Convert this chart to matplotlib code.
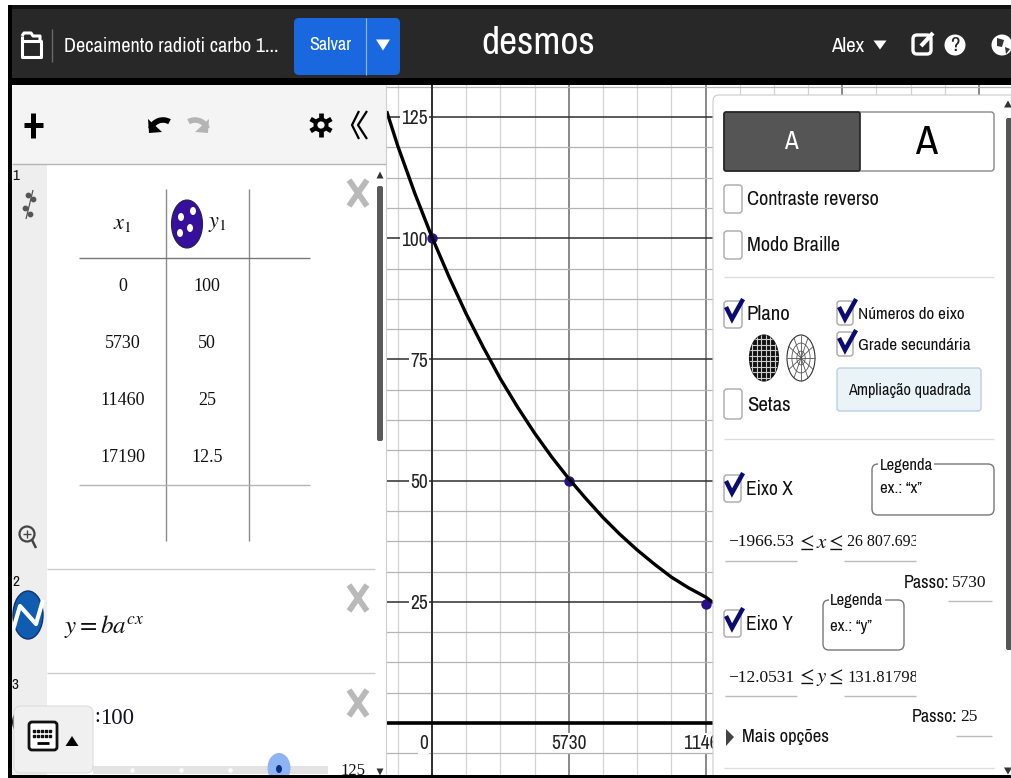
import numpy as np
import matplotlib
matplotlib.use("Agg")
import matplotlib.pyplot as plt
from matplotlib import font_manager as fm
from matplotlib.patches import Rectangle, FancyBboxPatch, Ellipse, Polygon, Circle, Arc
from matplotlib.ticker import MultipleLocator

plt.rcParams['mathtext.fontset'] = 'stix'

# the screenshot text is squeezed, use a narrow face when one is there
installed = set(f.name for f in fm.fontManager.ttflist)
SANS = ['Liberation Sans']
SCALE = 0.8
for name in ['Archivo Narrow', 'PT Sans Narrow', 'Roboto Condensed']:
    if name in installed:
        SANS = [name, 'Liberation Sans']
        SCALE = 1.0
        break
SERIF = ['Liberation Serif', 'DejaVu Serif']

# table in the expression list
table_x = ["0", "5730", "11460", "17190"]
table_y = ["100", "50", "25", "12.5"]

# points plotted on the graph
point_x = [0, 5730, 11460, 17190]
point_y = [100, 50, 24.6, 12.5]

# curve
curve_x = [-1900, -1432, -716, 0, 716, 1432, 2149, 2865, 3581, 4297, 5013, 5730,
           6446, 7162, 7878, 8595, 9311, 10027, 10743, 11460, 11790]
curve_y = [126.2, 119.0, 109.2, 100.2, 92.0, 84.4, 77.5, 71.0, 65.2, 59.8, 54.9, 50.4,
           46.3, 42.4, 38.9, 35.7, 32.8, 30.1, 27.9, 26.0, 24.8]

x_ticks = [0, 5730, 11460, 17190, 22920]
y_ticks = [25, 50, 75, 100, 125]
# the later x labels sit behind the settings panel
x_labels = ["", "5730", "11460", "", ""]
y_labels = ["25", "50", "75", "100", "125"]

W, H = 1011, 778
fig = plt.figure(figsize=(W / 100, H / 100), dpi=100, facecolor="white")

# graph paper
gx0, gx1, gy0, gy1 = 386, 1011, 85, 775
g = fig.add_axes([gx0 / W, 1 - gy1 / H, (gx1 - gx0) / W, (gy1 - gy0) / H], zorder=1)
px_x = 136.75 / 5730
px_y = 121.2 / 25
g.set_xlim((gx0 - 432) / px_x, (gx1 - 432) / px_x)
g.set_ylim((723 - gy1) / px_y, (723 - gy0) / px_y)
g.xaxis.set_minor_locator(MultipleLocator(5730 / 4))
g.yaxis.set_minor_locator(MultipleLocator(25 / 4))
g.set_axisbelow(True)
g.grid(True, which="minor", axis="x", color="#d4d4d4", lw=0.9)
g.grid(True, which="minor", axis="y", color="#b4b4b4", lw=0.9)
g.grid(True, which="major", axis="x", color="#757575", lw=1.2)
g.grid(True, which="major", axis="y", color="#2e2e2e", lw=1.1)
for s in ["top", "right"]:
    g.spines[s].set_visible(False)
g.spines["left"].set_position(("data", 0))
g.spines["bottom"].set_position(("data", 0))
g.spines["left"].set_linewidth(1.2)
g.spines["left"].set_color("#222222")
g.spines["bottom"].set_linewidth(2.6)
g.set_xticks(x_ticks)
g.set_yticks(y_ticks)
g.set_xticklabels(x_labels)
g.set_yticklabels(y_labels)
g.tick_params(which="both", length=0)
g.tick_params(axis="x", pad=8)
g.tick_params(axis="y", pad=3)
for lab in g.get_xticklabels() + g.get_yticklabels():
    lab.set_family(SANS)
    lab.set_fontsize(14 * SCALE)
    lab.set_color("#222222")
    if lab.get_text():
        lab.set_bbox(dict(fc="white", ec="none", pad=1))
g.plot(curve_x, curve_y, color="black", lw=2.4, solid_capstyle="butt", zorder=4)
g.scatter(point_x, point_y, s=42, color="#2a0f8c", zorder=3)
g.annotate("0", xy=(0, 0), xytext=(-3, -8), textcoords="offset points", fontsize=14 * SCALE, family=SANS,
           color="#222222", ha="right", va="top", bbox=dict(fc="white", ec="none", pad=1))

# interface drawn in pixel coordinates
ui = fig.add_axes([0, 0, 1, 1], zorder=2)
ui.set_xlim(0, W)
ui.set_ylim(H, 0)
ui.axis("off")
ui.patch.set_alpha(0)


def rect(x0, y0, x1, y1, fc, ec="none", lw=0, z=2):
    ui.add_patch(Rectangle((x0, y0), x1 - x0, y1 - y0, fc=fc, ec=ec, lw=lw, zorder=z))


def rrect(x0, y0, x1, y1, fc, ec="none", lw=1, r=5, z=3):
    ui.add_patch(FancyBboxPatch((x0 + r, y0 + r), x1 - x0 - 2 * r, y1 - y0 - 2 * r,
                                boxstyle="round,pad=%d,rounding_size=%d" % (r, r),
                                fc=fc, ec=ec, lw=lw, zorder=z))


def line(xs, ys, color="black", lw=1.0, z=4, cap="butt", **kw):
    ui.plot(xs, ys, color=color, lw=lw, zorder=z, solid_capstyle=cap, **kw)


def txt(x, y, s, size=15, color="#111111", ha="left", va="center", fam=None, z=6, **kw):
    if fam is None:
        fam = SANS
        size = size * SCALE
    return ui.text(x, y, s, fontsize=size, color=color, ha=ha, va=va, family=fam, zorder=z, **kw)


def tri(x, y, w, h, color="black", up=False, z=6):
    d = -1 if up else 1
    ui.add_patch(Polygon([(x - w / 2, y - d * h / 2), (x + w / 2, y - d * h / 2), (x, y + d * h / 2)],
                         fc=color, ec="none", zorder=z))


def grey_x(x, y):
    line([x - 9, x + 9], [y - 13, y + 13], color="#b9b9b9", lw=4.2, z=5)
    line([x + 9, x - 9], [y - 13, y + 13], color="#b9b9b9", lw=4.2, z=5)


def checkbox(x0, y0, x1, y1, checked=False):
    rrect(x0, y0, x1, y1, "white", ec="#a8a8a8", lw=1, r=3, z=5)
    if checked:
        ui.plot([x0 + 3, x0 + 8, x0 + 18], [y0 + 8, y0 + 18, y0 + 0], color="#0b0b70", lw=3.2, zorder=6,
                solid_joinstyle="miter")


# top bar and frame
rect(8, 5, W, 85, "#282828")
rect(8, 5, W, 9, "#111111")
rect(8, 78, W, 85, "#000000")
rect(8, 5, 12, H, "#000000", z=9)
rect(8, 775, W, H, "#000000", z=9)

# folder icon
line([22, 22, 41, 41, 22], [36, 57, 57, 41, 41], color="white", lw=2.2, z=5)
line([22, 24, 31, 33, 40, 40], [36, 33, 33, 36, 36, 41], color="white", lw=2.2, z=5)
line([52, 52], [29, 62], color="#6a6a6a", lw=1)
txt(64, 46, "Decaimento radioti carbo 1...", size=14.6, color="white")

rrect(294, 18, 400, 75, "#1a68e0", r=5)
line([366, 366], [18, 75], color="#8fb6f0", lw=0.8)
txt(330, 45, "Salvar", size=13, color="white", ha="center")
tri(383, 45, 14, 11, "white")

txt(538, 43, "desmos", size=28.5, color="white", ha="center")
txt(831, 46, "Alex", size=15, color="white")
tri(880, 45, 13, 9, "white")
# share, help, globe
rrect(913, 35, 931, 54, "none", ec="white", lw=2.4, r=4, z=6)
line([921, 933], [46, 33], color="white", lw=3, z=7)
ui.add_patch(Circle((955, 45), 10.5, fc="white", zorder=6))
txt(955, 45, "?", size=15, color="#222222", ha="center", fontweight="bold", z=7)
ui.add_patch(Circle((1002, 45), 10.5, fc="white", zorder=6))
ui.add_patch(Polygon([(997, 38), (1004, 40), (1002, 47), (997, 46)], fc="#333333", zorder=7))
ui.add_patch(Polygon([(1005, 47), (1010, 49), (1006, 54)], fc="#333333", zorder=7))

# list panel
rect(12, 85, 386, 775, "white")
rect(12, 85, 386, 164, "#f4f4f4")
line([12, 386], [164, 164], color="#b5b5b5", lw=1)
line([386, 386], [85, 775], color="#cfcfcf", lw=0.8)
rect(12, 165, 47, 775, "#eeeeee")
line([33, 33], [113, 138], lw=3.6, z=5)
line([24, 43], [125, 125], lw=3.6, z=5)
# undo and redo
ui.add_patch(Arc((163, 133), 26, 26, theta1=200, theta2=300, color="black", lw=4, zorder=5))
ui.add_patch(Polygon([(148, 119), (149, 133), (162, 132)], fc="black", zorder=5))
ui.add_patch(Arc((195, 133), 26, 26, theta1=240, theta2=340, color="#b4b4b4", lw=4, zorder=5))
ui.add_patch(Polygon([(209, 119), (208, 133), (195, 132)], fc="#b4b4b4", zorder=5))
# gear
ui.add_patch(Circle((321, 125), 7.5, fc="black", zorder=5))
for a in np.deg2rad([30, 90, 150]):
    line([321 - 12 * np.cos(a), 321 + 12 * np.cos(a)], [125 - 12 * np.sin(a), 125 + 12 * np.sin(a)], lw=3.4, z=5)
ui.add_patch(Circle((321, 125), 3.6, fc="#f4f4f4", zorder=6))
line([359, 352, 359], [111, 125, 139], lw=1.6, z=5)
line([367, 358, 367], [111, 125, 139], lw=1.6, z=5)

txt(12, 176, "1", size=11)
txt(12, 582, "2", size=11)
txt(12, 685, "3", size=11)

# table icon in gutter
line([26, 33], [219, 190], color="#555555", lw=0.9, z=5)
ui.scatter([28, 33, 25, 30], [195, 199, 208, 214], s=10, color="#555555", zorder=5)

# table
for lx in [166, 249]:
    line([lx, lx], [189, 541], color="#8c8c8c", lw=1)
line([79, 310], [258, 258], color="#777777", lw=1)
line([79, 310], [485, 485], color="#b5b5b5", lw=1)
txt(122, 224, r"$x_1$", size=16, ha="center")
txt(217, 224, r"$y_1$", size=16, ha="center")
ui.add_patch(Ellipse((187, 224), 31, 48, fc="#36109c", ec="#222244", lw=0.8, zorder=5))
for dx, dy in [(-6, -7), (6, -13), (3, 4), (-7, 9)]:
    ui.add_patch(Ellipse((187 + dx, 224 + dy), 6, 8, fc="white", zorder=6))
for i, yy in enumerate([286, 343, 400, 457]):
    txt(123, yy, table_x[i], size=13, ha="center", fam=SERIF)
    txt(207, yy, table_y[i], size=13, ha="center", fam=SERIF)

grey_x(358, 193)
grey_x(358, 598)
grey_x(358, 703)

# list scrollbar
rrect(377, 186, 383, 441, "#5a5a5a", r=2, z=5)
tri(380, 175, 7, 7, "#333333", up=True)
tri(380, 772, 7, 7, "#333333", z=8)

# zoom icon
ui.add_patch(Circle((27, 534), 7.5, fc="none", ec="#444444", lw=1.6, zorder=5))
line([32, 36], [540, 548], color="#444444", lw=1.8, z=5)
line([23, 31], [534, 534], color="#444444", lw=1, z=5)
line([27, 27], [530, 538], color="#444444", lw=1, z=5)

line([47, 375], [569, 569], color="#cccccc", lw=1, z=5)
line([47, 375], [673, 673], color="#cccccc", lw=1, z=5)

# expression 2
ui.add_patch(Ellipse((28, 615), 30, 48, fc="#0f5cb0", ec="#11336b", lw=1, zorder=5))
wave_x = [13, 20, 28, 36, 43]
wave_y = [630, 606, 615, 624, 600]
line(wave_x, wave_y, color="white", lw=3, z=6)
txt(64, 626, r"$y=ba^{cx}$", size=18)

# expression 3
ui.add_patch(Circle((28, 722), 15, fc="white", ec="#222222", lw=1.4, zorder=5))
txt(100, 718, "100", size=16.5, fam=SERIF, color="#111122")
txt(94, 718, ":", size=15, fam=SERIF)
rect(93, 766, 328, 774, "#e3e3e3")
for sx in [132, 181, 230]:
    ui.scatter([sx], [770], s=5, color="white", zorder=5)
ui.add_patch(Ellipse((279, 768), 23, 30, fc="#8fb4f4", zorder=5))
ui.add_patch(Ellipse((279, 769), 6, 8, fc="#0b2f80", zorder=6))
txt(353, 771, "125", size=12, ha="center", fam=SERIF)

# keyboard button
rrect(14, 706, 93, 773, "#f0f0f0", ec="#dddddd", lw=0.8, r=7, z=7)
rrect(29, 722, 57, 750, "white", ec="#111111", lw=2, r=3, z=8)
for ky in [731, 736]:
    ui.scatter(np.arange(34, 54, 4), [ky] * 5, s=3, marker="s", color="#111111", zorder=9)
line([37, 49], [743, 743], lw=2, z=9)
tri(72, 741, 13, 10, "black", up=True, z=8)

# settings panel
rrect(713, 95, 1030, 800, "white", ec="#cccccc", lw=0.8, r=6, z=2)
rect(713, 775, W, H, "#000000", z=9)

rrect(724, 112, 994, 171, "white", ec="#888888", lw=1, r=3)
rrect(724, 112, 860, 171, "#555555", ec="#222222", lw=1.2, r=2, z=4)
rect(845, 113, 858, 170, "#555555", z=4)
txt(791, 141, "A", size=18, color="white", ha="center")
txt(926, 142, "A", size=29, color="black", ha="center")

checkbox(724, 185, 742, 213)
txt(747, 199, "Contraste reverso", size=14.6)
checkbox(724, 231, 742, 259)
txt(747, 245, "Modo Braille", size=14.6)
line([724, 994], [277, 277], color="#dddddd", lw=1)

checkbox(724, 301, 742, 328, True)
txt(747, 314, "Plano", size=15)
checkbox(837, 301, 853, 325, True)
txt(858, 314, "Números do eixo", size=12.3)
checkbox(837, 332, 853, 356, True)
txt(858, 345, "Grade secundária", size=12.3)

# small cartesian and polar thumbnails
e1 = Ellipse((764, 358), 29, 46, fc="#111111", ec="#111111", lw=0.8, zorder=5)
ui.add_patch(e1)
for gx in np.arange(752, 780, 4.5):
    ln, = ui.plot([gx, gx], [334, 382], color="#cccccc", lw=0.8, zorder=6)
    ln.set_clip_path(e1)
for gy in np.arange(339, 382, 5.5):
    ln, = ui.plot([749, 779], [gy, gy], color="#cccccc", lw=0.8, zorder=6)
    ln.set_clip_path(e1)
e2 = Ellipse((801, 358), 28, 46, fc="white", ec="#333333", lw=0.8, zorder=5)
ui.add_patch(e2)
for a in np.deg2rad(np.arange(0, 180, 30)):
    line([801 - 14 * np.cos(a), 801 + 14 * np.cos(a)], [358 - 23 * np.sin(a), 358 + 23 * np.sin(a)],
         color="#555555", lw=0.6, z=6)
for f in [0.3, 0.65]:
    ui.add_patch(Ellipse((801, 358), 28 * f, 46 * f, fc="none", ec="#555555", lw=0.6, zorder=6))

checkbox(724, 389, 742, 419)
txt(747, 405, "Setas", size=15)
rrect(837, 368, 981, 411, "#eaf3f8", ec="#bcd0dd", lw=1, r=3)
txt(909, 390, "Ampliação quadrada", size=11.7, ha="center")
line([724, 994], [439, 439], color="#dddddd", lw=1)

# x axis row
checkbox(724, 475, 741, 502, True)
txt(746, 489, "Eixo X", size=14)
rrect(872, 464, 994, 515, "white", ec="#777777", lw=1, r=6)
rect(878, 458, 934, 470, "white", z=4)
txt(880, 465, "Legenda", size=12)
txt(880, 488, "ex.: “x”", size=12)
txt(728, 542, "−1966.53", size=12.5, fam=SERIF)
txt(796, 542, r"$\leq x \leq$", size=15)
txt(847, 542, "26 807.693", size=11.5, fam=SERIF)
rect(916, 530, 950, 556, "white", z=7)
line([725, 797], [561, 561], color="#bbbbbb", lw=1)
line([844, 916], [561, 561], color="#bbbbbb", lw=1)
txt(904, 583, "Passo:", size=13)
txt(952, 583, "5730", size=12.5, fam=SERIF)
line([948, 992], [601, 601], color="#bbbbbb", lw=1)

# y axis row
checkbox(724, 610, 741, 637, True)
txt(746, 624, "Eixo Y", size=14)
rrect(823, 600, 904, 650, "white", ec="#777777", lw=1, r=6)
rect(829, 594, 885, 606, "white", z=4)
txt(830, 600, "Legenda", size=12)
txt(830, 627, "ex.: “y”", size=12)
txt(728, 678, "−12.0531", size=12.5, fam=SERIF)
txt(796, 678, r"$\leq y \leq$", size=15)
txt(847, 678, "131.81798", size=12, fam=SERIF)
rect(916, 666, 950, 692, "white", z=7)
line([725, 797], [696, 696], color="#bbbbbb", lw=1)
line([844, 916], [696, 696], color="#bbbbbb", lw=1)
txt(912, 717, "Passo:", size=13)
txt(960, 717, "25", size=12.5, fam=SERIF)
line([956, 992], [736, 736], color="#bbbbbb", lw=1)

ui.add_patch(Polygon([(726, 729), (726, 746), (734, 737)], fc="#444444", zorder=6))
txt(742, 737, "Mais opções", size=13.5)
line([724, 994], [768, 768], color="#dddddd", lw=1)

# panel scrollbar
rrect(1006, 118, 1014, 650, "#555555", r=2, z=5)
tri(1008, 104, 8, 7, "#333333", up=True)
tri(1008, 771, 8, 7, "#333333")

fig.savefig("out.png", dpi=100)
